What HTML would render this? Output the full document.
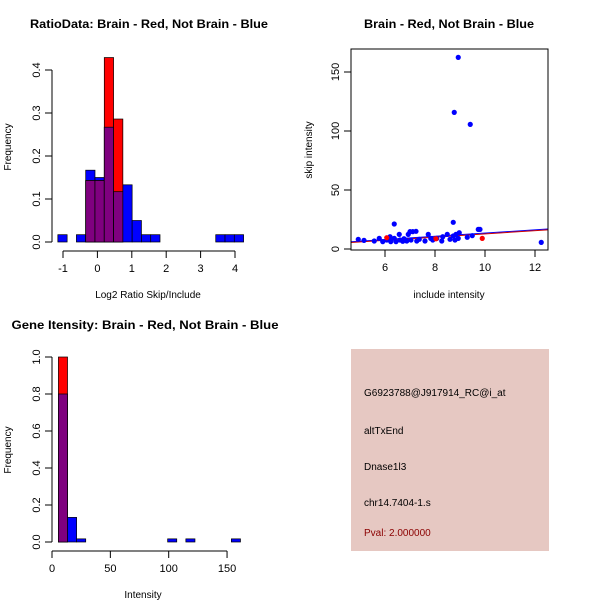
<!DOCTYPE html>
<html><head><meta charset="utf-8"><style>
body{margin:0;background:#fff}
svg{display:block;font-family:"Liberation Sans",sans-serif}
</style></head><body>
<svg id="c" width="600" height="600" viewBox="0 0 600 600" xmlns="http://www.w3.org/2000/svg">
<rect width="600" height="600" fill="#fff"/>
<g id="p1"></g>
<g id="p2"></g>
<g id="p3"></g>
<g>
<rect x="351" y="349" width="198" height="202" fill="#e6c8c2"/>
<text x="364" y="396" font-size="10" fill="#000">G6923788@J917914_RC@i_at</text>
<text x="364" y="434" font-size="10" fill="#000">altTxEnd</text>
<text x="364" y="470" font-size="10" fill="#000">Dnase1l3</text>
<text x="364" y="506" font-size="10" fill="#000">chr14.7404-1.s</text>
<text x="364" y="536" font-size="10" fill="#8b0000">Pval: 2.000000</text>
</g>
</svg>
<script>
// Histogram 1 data
const h1Start=-1.15, h1Width=0.27;
const h1Blue=[0.017,0,0.017,0.167,0.15,0.267,0.117,0.133,0.05,0.017,0.017,0,0,0,0,0,0,0.017,0.017,0.017];
const h1Red=[0,0,0,0.143,0.143,0.429,0.286,0,0,0,0,0,0,0,0,0,0,0,0,0];
const h1XTicks=[-1,0,1,2,3,4];
const h1YTicks=[0,0.1,0.2,0.3,0.4];
// Scatter data
const scX=[4.93,5.16,5.57,5.77,5.91,6.07,6.2,6.23,6.37,6.37,6.44,6.57,6.6,6.71,6.76,6.87,6.93,7.0,7.04,7.11,7.24,7.27,7.37,7.6,7.73,7.83,7.91,8.07,8.27,8.31,8.49,8.6,8.73,8.73,8.8,8.84,8.93,8.97,8.77,8.93,9.41,9.29,9.49,9.73,9.8,12.25];
const scY=[8.2,7.3,6.8,9.0,6.2,7.6,10.4,6.2,21.2,9.0,6.2,12.4,7.6,6.5,8.7,6.8,12.4,14.7,7.6,14.7,15.0,6.8,8.2,6.8,12.4,9.0,7.6,9.0,6.8,10.4,12.4,8.2,22.6,11.0,7.6,12.4,9.0,13.8,115.8,162.4,105.6,9.9,11.3,16.6,16.6,5.6];
const scRedX=[6.07,8.04,9.89];
const scRedY=[9.6,8.7,9.0];
const fitLine=[-0.2,1.37]; // intercept, slope
const scXTicks=[6,8,10,12];
const scYTicks=[0,50,100,150];
// Histogram 3 data
const h3Start=5.5, h3Width=7.8;
const h3Blue=[0.8,0.133,0.017,0,0,0,0,0,0,0,0,0,0.017,0,0.017,0,0,0,0,0.017];
const h3Red=[1.0,0,0,0,0,0,0,0,0,0,0,0,0,0,0,0,0,0,0,0];
const h3XTicks=[0,50,100,150];
const h3YTicks=[0,0.2,0.4,0.6,0.8,1.0];

const NS="http://www.w3.org/2000/svg";
function mk(parent,tag,attrs,txt){const e=document.createElementNS(NS,tag);for(const k in attrs)e.setAttribute(k,attrs[k]);if(txt!==undefined)e.textContent=txt;parent.appendChild(e);return e;}

function hist(g,o){
  const sx=v=>o.x0+(v-o.xmin)*o.kx, sy=v=>o.y0-v*o.ky;
  const n=Math.max(o.blue.length,o.red.length);
  for(let i=0;i<n;i++){
    const a=o.start+i*o.width,b=a+o.width;
    const bl=o.blue[i]||0, rd=o.red[i]||0, mn=Math.min(bl,rd);
    if(bl>0){const r=mk(g,'rect',{x:sx(a),y:sy(bl),width:sx(b)-sx(a),height:sy(0)-sy(bl),fill:'#0000ff',stroke:'#000','stroke-width':0.7});
      
      }
    if(rd>0){const r=mk(g,'rect',{x:sx(a),y:sy(rd),width:sx(b)-sx(a),height:sy(0)-sy(rd),fill:'#ff0000',stroke:'#000','stroke-width':0.7});
      
      }
    if(mn>0){const r=mk(g,'rect',{x:sx(a),y:sy(mn),width:sx(b)-sx(a),height:sy(0)-sy(mn),fill:'#7f007f',stroke:'#000','stroke-width':0.7});
      
      }
  }
  const yt=o.yticks;
  mk(g,'line',{x1:o.yax,x2:o.yax,y1:sy(yt[0]),y2:sy(yt[yt.length-1]),stroke:'#000'});
  yt.forEach(t=>{mk(g,'line',{x1:o.yax-7,x2:o.yax,y1:sy(t),y2:sy(t),stroke:'#000'});
    const tx=mk(g,'text',{x:0,y:0,'font-size':11,'text-anchor':'middle',transform:`translate(${o.yax-12},${sy(t)}) rotate(-90)`},t.toFixed(1));
    
    });
  const xt=o.xticks;
  mk(g,'line',{x1:sx(xt[0]),x2:sx(xt[xt.length-1]),y1:o.xax,y2:o.xax,stroke:'#000'});
  xt.forEach(t=>{mk(g,'line',{x1:sx(t),x2:sx(t),y1:o.xax,y2:o.xax+7,stroke:'#000'});
    const tx=mk(g,'text',{x:sx(t),y:o.xax+21,'font-size':11,'text-anchor':'middle'},String(t));
    
    });
}

const p1=document.getElementById('p1');
hist(p1,{x0:63,xmin:-1,kx:34.4,y0:242,ky:430,start:h1Start,width:h1Width,blue:h1Blue,red:h1Red,yticks:h1YTicks,xticks:h1XTicks,yax:52,xax:251});
const p3=document.getElementById('p3');
hist(p3,{x0:52,xmin:0,kx:1.167,y0:542,ky:185,start:h3Start,width:h3Width,blue:h3Blue,red:h3Red,yticks:h3YTicks,xticks:h3XTicks,yax:52,xax:551});

const p2=document.getElementById('p2');
const ssx=v=>351+(v-4.64)*25, ssy=v=>249-v*1.18;
const cp=mk(p2,'clipPath',{id:'clp'});mk(cp,'rect',{x:351,y:49,width:197,height:201});
const l1=mk(p2,'line',{x1:ssx(4.64),y1:ssy(fitLine[0]+fitLine[1]*4.64),x2:ssx(12.5),y2:ssy(fitLine[0]+fitLine[1]*12.5),stroke:'#0000ff','stroke-width':1,'clip-path':'url(#clp)'});


const l2=mk(p2,'line',{x1:ssx(4.64),y1:ssy(fitLine[0]+fitLine[1]*4.64)+0.8,x2:ssx(12.5),y2:ssy(fitLine[0]+fitLine[1]*12.5)+0.8,stroke:'#cc0000','stroke-width':1,'clip-path':'url(#clp)'});


scX.forEach((x,i)=>{const c=mk(p2,'circle',{cx:ssx(x),cy:ssy(scY[i]),r:2.6,fill:'#0000ff'});
  
  });
scRedX.forEach((x,i)=>{const c=mk(p2,'circle',{cx:ssx(x),cy:ssy(scRedY[i]),r:2.6,fill:'#ff0000'});
  
  });
mk(p2,'rect',{x:351,y:49,width:197,height:201,fill:'none',stroke:'#000'});
scXTicks.forEach(t=>{mk(p2,'line',{x1:ssx(t),x2:ssx(t),y1:250,y2:257,stroke:'#000'});
  const tx=mk(p2,'text',{x:ssx(t),y:271,'font-size':11,'text-anchor':'middle'},String(t));
  
  });
scYTicks.forEach(t=>{mk(p2,'line',{x1:344,x2:351,y1:ssy(t),y2:ssy(t),stroke:'#000'});
  const tx=mk(p2,'text',{x:0,y:0,'font-size':11,'text-anchor':'middle',transform:`translate(339,${ssy(t)}) rotate(-90)`},String(t));
  
  });
</script>
<script>
const s=document.getElementById('c');
function T(x,y,txt,opt,name){const e=document.createElementNS("http://www.w3.org/2000/svg",'text');e.setAttribute('x',x);e.setAttribute('y',y);e.setAttribute('font-size',opt.fs||10);e.setAttribute('text-anchor','middle');if(opt.b)e.setAttribute('font-weight','bold');if(opt.tl){e.setAttribute('textLength',opt.tl);e.setAttribute('lengthAdjust','spacingAndGlyphs');}if(opt.rot)e.setAttribute('transform',`rotate(-90 ${x} ${y})`);e.textContent=txt;s.appendChild(e);

}
T(149,28,'RatioData: Brain - Red, Not Brain - Blue',{fs:12,b:1,tl:238},'ratio-chart-title');
T(449,28,'Brain - Red, Not Brain - Blue',{fs:12,b:1,tl:170},'scatter-chart-title');
T(145,329,'Gene Itensity: Brain - Red, Not Brain - Blue',{fs:12,b:1,tl:267},'intensity-chart-title');
T(148,298,'Log2 Ratio Skip/Include',{},'ratio-x-axis-title');
T(11,147,'Frequency',{rot:1},'ratio-y-axis-title');
T(449,298,'include intensity',{},'scatter-x-axis-title');
T(312,150,'skip intensity',{rot:1},'scatter-y-axis-title');
T(143,598,'Intensity',{},'intensity-x-axis-title');
T(11,450,'Frequency',{rot:1},'intensity-y-axis-title');
</script>
</body></html>
